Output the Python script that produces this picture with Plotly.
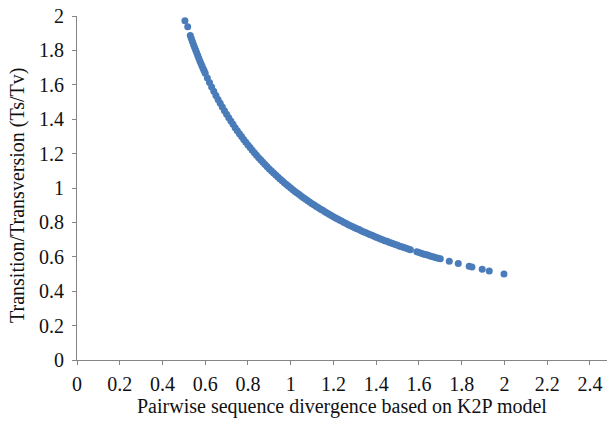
import plotly.graph_objects as go

# Values
div_k2p = [
    0.505, 0.518,
    0.530, 0.535, 0.540, 0.545, 0.550, 0.555, 0.560, 0.565, 0.570, 0.575,
    0.580, 0.585, 0.590, 0.595, 0.600, 0.610, 0.620, 0.630, 0.640, 0.650,
    0.660, 0.670, 0.680, 0.690, 0.700, 0.710, 0.720, 0.730, 0.740, 0.750,
    0.760, 0.770, 0.780, 0.790, 0.800, 0.810, 0.820, 0.830, 0.840, 0.850,
    0.860, 0.870, 0.880, 0.890, 0.900, 0.910, 0.920, 0.930, 0.940, 0.950,
    0.960, 0.970, 0.980, 0.990, 1.000, 1.010, 1.020, 1.030, 1.040, 1.050,
    1.060, 1.070, 1.080, 1.090, 1.100, 1.110, 1.120, 1.130, 1.140, 1.150,
    1.160, 1.170, 1.180, 1.190, 1.200, 1.210, 1.220, 1.230, 1.240, 1.250,
    1.260, 1.270, 1.280, 1.290, 1.300, 1.310, 1.320, 1.330, 1.340, 1.350,
    1.360, 1.370, 1.380, 1.390, 1.400, 1.410, 1.420, 1.430, 1.440, 1.450,
    1.460, 1.470, 1.480, 1.490, 1.500, 1.510, 1.520, 1.530, 1.540, 1.550,
    1.560,
    1.590, 1.600, 1.610, 1.620, 1.630, 1.640, 1.650, 1.660, 1.670, 1.680,
    1.690, 1.700,
    1.742, 1.784, 1.835, 1.848, 1.896, 1.929, 1.998,
]
ts_tv = [
    1.972, 1.937,
    1.887, 1.869, 1.852, 1.835, 1.818, 1.802, 1.786, 1.770, 1.754, 1.739,
    1.724, 1.709, 1.695, 1.681, 1.667, 1.639, 1.613, 1.587, 1.563, 1.538,
    1.515, 1.493, 1.471, 1.449, 1.429, 1.408, 1.389, 1.370, 1.351, 1.333,
    1.316, 1.299, 1.282, 1.266, 1.250, 1.235, 1.220, 1.205, 1.190, 1.176,
    1.163, 1.149, 1.136, 1.124, 1.111, 1.099, 1.087, 1.075, 1.064, 1.053,
    1.042, 1.031, 1.020, 1.010, 1.000, 0.990, 0.980, 0.971, 0.962, 0.952,
    0.943, 0.935, 0.926, 0.917, 0.909, 0.901, 0.893, 0.885, 0.877, 0.870,
    0.862, 0.855, 0.847, 0.840, 0.833, 0.826, 0.820, 0.813, 0.806, 0.800,
    0.794, 0.787, 0.781, 0.775, 0.769, 0.763, 0.758, 0.752, 0.746, 0.741,
    0.735, 0.730, 0.725, 0.719, 0.714, 0.709, 0.704, 0.699, 0.694, 0.690,
    0.685, 0.680, 0.676, 0.671, 0.667, 0.662, 0.658, 0.654, 0.649, 0.645,
    0.641,
    0.629, 0.625, 0.621, 0.617, 0.613, 0.610, 0.606, 0.602, 0.599, 0.595,
    0.592, 0.588,
    0.574, 0.561, 0.545, 0.541, 0.527, 0.518, 0.500,
]

x_title = "Pairwise sequence divergence based on K2P model"
y_title = "Transition/Transversion (Ts/Tv)"

FONT = "Liberation Serif, Times New Roman, Times, Tinos, DejaVu Serif, serif"
AXIS_COLOR = "#868686"
TEXT_COLOR = "#111111"

fig = go.Figure(
    go.Scatter(
        x=div_k2p,
        y=ts_tv,
        mode="markers",
        marker=dict(color="#4A7CBA", size=7, line=dict(width=0)),
        cliponaxis=False,
        showlegend=False,
    )
)

fig.update_layout(
    width=607,
    height=427,
    margin=dict(l=77, r=0, t=16, b=67, autoexpand=False),
    paper_bgcolor="white",
    plot_bgcolor="white",
    font=dict(family=FONT, size=20, color=TEXT_COLOR),
    annotations=[
        dict(
            text=x_title, xref="paper", yref="paper", x=0.5, y=0,
            xanchor="center", yanchor="top", yshift=-33, showarrow=False,
            font=dict(family=FONT, size=20, color=TEXT_COLOR),
        ),
        dict(
            text=y_title, xref="paper", yref="paper", x=(17 - 77) / 530, y=0.5,
            xanchor="center", yanchor="middle", yshift=-8, textangle=-90,
            showarrow=False,
            font=dict(family=FONT, size=20, color=TEXT_COLOR),
        ),
    ],
)

fig.update_xaxes(
    range=[0, 2.48],
    tick0=0,
    dtick=0.2,
    automargin=False,
    showgrid=False,
    zeroline=False,
    showline=True,
    linecolor=AXIS_COLOR,
    linewidth=1,
    ticks="outside",
    ticklen=4,
    tickcolor=AXIS_COLOR,
    ticklabelstandoff=2,
    tickfont=dict(family=FONT, size=20, color=TEXT_COLOR),
)
fig.update_yaxes(
    range=[0, 2],
    tick0=0,
    dtick=0.2,
    automargin=False,
    showgrid=False,
    zeroline=False,
    showline=True,
    linecolor=AXIS_COLOR,
    linewidth=1,
    ticks="outside",
    ticklen=4,
    tickcolor=AXIS_COLOR,
    ticklabelstandoff=4,
    tickfont=dict(family=FONT, size=20, color=TEXT_COLOR),
)

fig.write_html(
    "out.html",
    config={"displayModeBar": False},
    post_script="document.body.style.margin='0';document.body.style.padding='0';",
)
